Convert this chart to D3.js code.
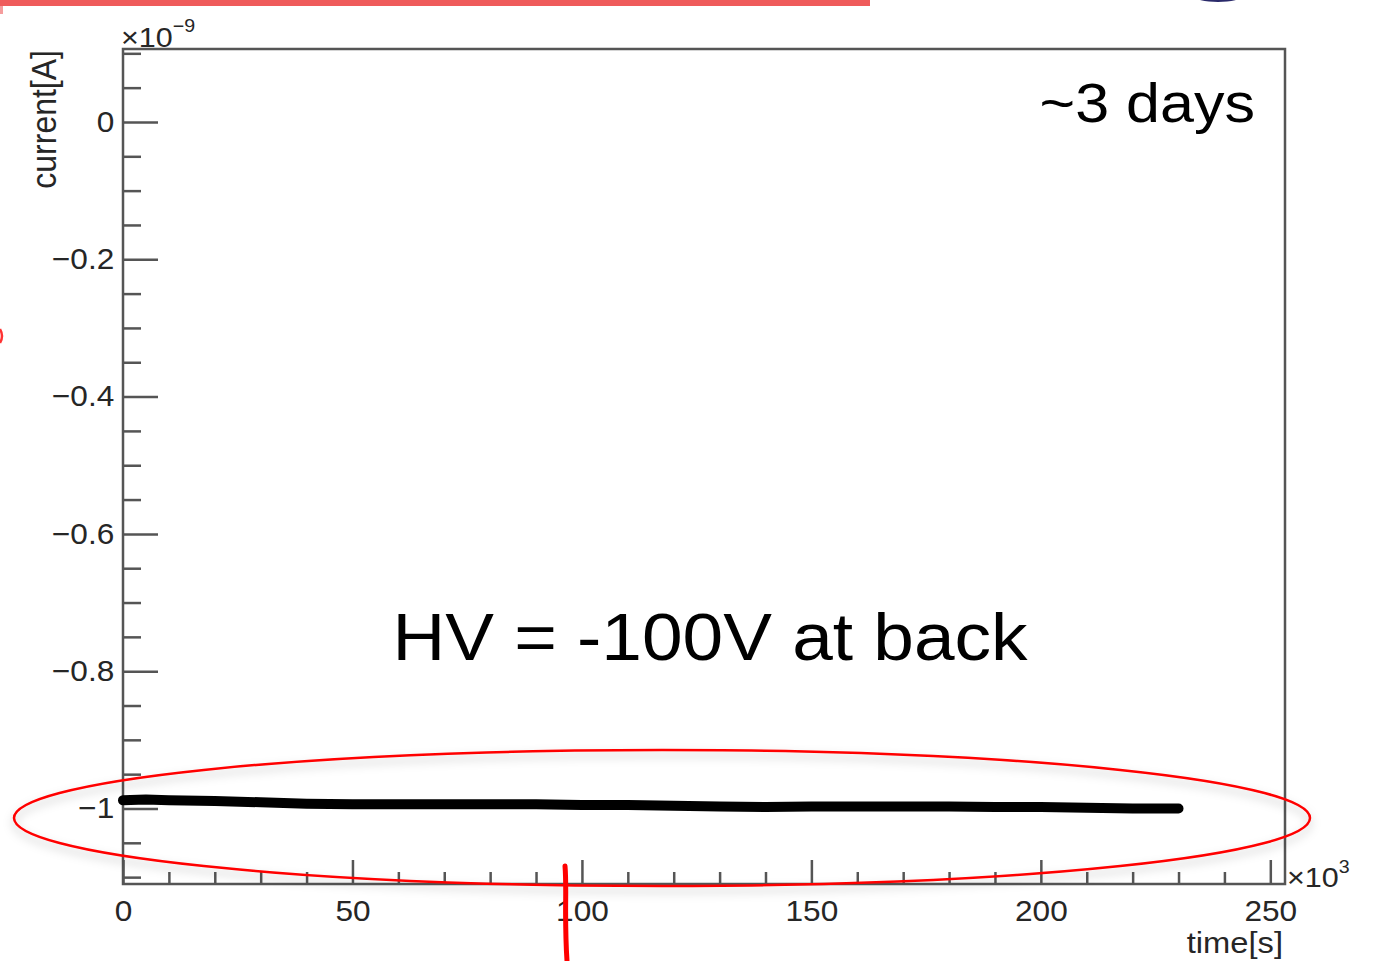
<!DOCTYPE html>
<html>
<head>
<meta charset="utf-8">
<script src="https://cdn.jsdelivr.net/npm/d3@7.9.0/dist/d3.min.js"></script>
<style>
  html, body { margin: 0; padding: 0; background: #fff; }
  svg { display: block; font-family: "Liberation Sans", Arial, sans-serif; }
</style>
</head>
<body>
<svg id="chart" width="1375" height="961"></svg>
<script>
// time in units of 10^3 s, current in units of 10^-9 A
const timeK = [0, 5, 10, 20, 30, 40, 50, 60, 70, 80, 90, 100, 110, 120, 130, 140, 150, 160, 170, 180, 190, 200, 210, 220, 230];
const currentN = [-0.988, -0.987, -0.988, -0.989, -0.991, -0.993, -0.994, -0.994, -0.994, -0.994, -0.994, -0.995, -0.995, -0.996, -0.997, -0.998, -0.997, -0.997, -0.997, -0.997, -0.998, -0.998, -0.999, -1.0, -1.0];

const xMajor = [0, 50, 100, 150, 200, 250];
const yMajor = [0, -0.2, -0.4, -0.6, -0.8, -1];

const xDomain = [0, 253.2];
const yDomain = [-1.11, 0.1063];

const svg = d3.select('#chart');
const frame = { left: 123, right: 1285, top: 49, bottom: 884 };

const x = d3.scaleLinear().domain(xDomain).range([frame.left, frame.right]);
const y = d3.scaleLinear().domain(yDomain).range([frame.bottom, frame.top]);

const stretch = 'scale(1.09,1)';
const ink = '#262626';
const axisColor = '#555';

// shadow filter for the red annotation ellipse
const defs = svg.append('defs');
const f = defs.append('filter').attr('id', 'shadow').attr('x', '-10%').attr('y', '-50%').attr('width', '120%').attr('height', '200%');
f.append('feDropShadow').attr('dx', 0).attr('dy', 5).attr('stdDeviation', 5).attr('flood-color', '#000').attr('flood-opacity', 0.25);

// frame
svg.append('rect')
  .attr('x', frame.left).attr('y', frame.top)
  .attr('width', frame.right - frame.left).attr('height', frame.bottom - frame.top)
  .attr('fill', 'none').attr('stroke', axisColor).attr('stroke-width', 2.5);

// x axis: major and minor ticks pointing inward
const xMinorAxis = d3.axisBottom(x)
  .tickValues(d3.range(0, 251, 10).filter(v => v % 50 !== 0))
  .tickSizeInner(-12).tickSizeOuter(0).tickFormat('');
const xMajorAxis = d3.axisBottom(x)
  .tickValues(xMajor)
  .tickSizeInner(-24).tickSizeOuter(0).tickPadding(16)
  .tickFormat(d3.format('d'));

svg.append('g').attr('transform', `translate(0,${frame.bottom})`).call(xMinorAxis);
const gx = svg.append('g').attr('transform', `translate(0,${frame.bottom})`).call(xMajorAxis);

// y axis
const yMinorAxis = d3.axisLeft(y)
  .tickValues(d3.range(-22, 3).map(i => i * 0.05).filter(v => Math.abs(v * 5 - Math.round(v * 5)) > 1e-6))
  .tickSizeInner(-18).tickSizeOuter(0).tickFormat('');
const yMajorAxis = d3.axisLeft(y)
  .tickValues(yMajor)
  .tickSizeInner(-35).tickSizeOuter(0).tickPadding(8)
  .tickFormat(d3.format(''));

svg.append('g').attr('transform', `translate(${frame.left},0)`).call(yMinorAxis);
const gy = svg.append('g').attr('transform', `translate(${frame.left},0)`).call(yMajorAxis);

svg.selectAll('.domain').remove();
svg.selectAll('.tick line').attr('stroke', axisColor).attr('stroke-width', 2.5);
[gx, gy].forEach(g => g.selectAll('.tick text')
  .attr('fill', ink).attr('font-size', 29).attr('transform', stretch));

// axis titles and multipliers
svg.append('text')
  .attr('transform', `translate(1283,953) ${stretch}`)
  .attr('text-anchor', 'end').attr('font-size', 30).attr('fill', ink)
  .text('time[s]');

const xMul = svg.append('text')
  .attr('transform', `translate(1287,887) ${stretch}`)
  .attr('font-size', 28).attr('fill', ink);
xMul.append('tspan').text('×10');
xMul.append('tspan').attr('font-size', 18).attr('dy', -14).text('3');

svg.append('text')
  .attr('transform', `translate(56,50) ${stretch} rotate(-90)`)
  .attr('text-anchor', 'end').attr('font-size', 32).attr('fill', ink)
  .text('current[A]');

const yMul = svg.append('text')
  .attr('transform', `translate(121,47) ${stretch}`)
  .attr('font-size', 28).attr('fill', ink);
yMul.append('tspan').text('×10');
yMul.append('tspan').attr('font-size', 18).attr('dy', -15).text('−9');

// data trace
const line = d3.line().x((d, i) => x(timeK[i])).y(d => y(d));
svg.append('path')
  .datum(currentN)
  .attr('d', line)
  .attr('fill', 'none')
  .attr('stroke', '#000')
  .attr('stroke-width', 10)
  .attr('stroke-linecap', 'round')
  .attr('stroke-linejoin', 'round');

// annotations
svg.append('text')
  .attr('transform', `translate(1255,122) ${stretch}`)
  .attr('text-anchor', 'end').attr('font-size', 56).attr('fill', '#000')
  .text('~3 days');

svg.append('text')
  .attr('transform', `translate(710,660) ${stretch}`)
  .attr('text-anchor', 'middle').attr('font-size', 67).attr('fill', '#000')
  .text('HV = -100V at back');

svg.append('ellipse')
  .attr('cx', 662).attr('cy', 818).attr('rx', 648).attr('ry', 68)
  .attr('fill', 'none').attr('stroke', '#f00').attr('stroke-width', 2.5)
  .attr('filter', 'url(#shadow)');

// red pen stroke near 100
svg.append('path')
  .attr('d', 'M565,866 C567,890 564,915 567,961')
  .attr('fill', 'none').attr('stroke', '#f00').attr('stroke-width', 5).attr('stroke-linecap', 'round');

// red smear along the top edge and leftover bits of the slide
svg.append('rect').attr('x', 0).attr('y', 0).attr('width', 870).attr('height', 6)
  .attr('fill', '#ef5b5b');
svg.append('rect').attr('x', 0).attr('y', 6).attr('width', 3).attr('height', 8)
  .attr('fill', '#ef5b5b').attr('opacity', 0.6);
svg.append('path').attr('d', 'M0,329 Q4,336 0,343')
  .attr('fill', 'none').attr('stroke', '#f33').attr('stroke-width', 2.5);
svg.append('ellipse').attr('cx', 1218).attr('cy', -4).attr('rx', 24).attr('ry', 6)
  .attr('fill', '#2a2a6a');
</script>
</body>
</html>
